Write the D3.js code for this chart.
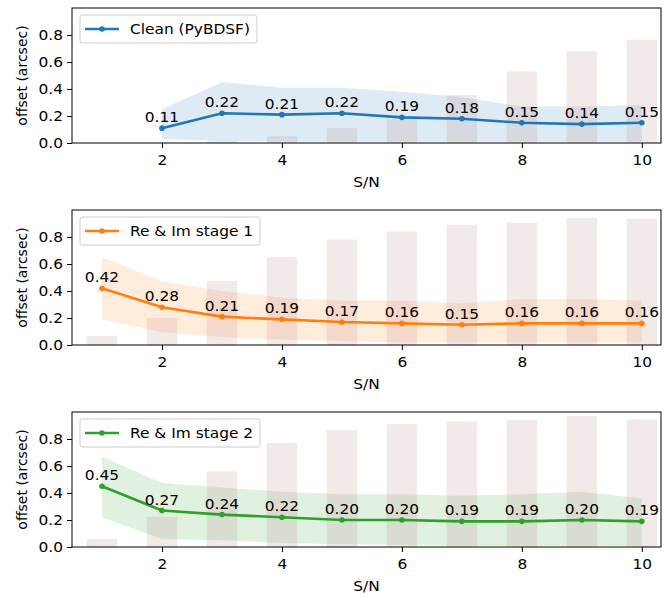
<!DOCTYPE html>
<html>
<head>
<meta charset="utf-8">
<script src="https://cdn.jsdelivr.net/npm/d3@7"></script>
<style>
  body { margin: 0; background: #fff; }
  text { font-family: "DejaVu Sans", sans-serif; }
</style>
</head>
<body>
<div id="chart"></div>
<script>
// S/N bins
const snr = [1, 2, 3, 4, 5, 6, 7, 8, 9, 10]
const yTicks = [0.0, 0.2, 0.4, 0.6, 0.8]
const xTicks = [2, 4, 6, 8, 10]

// Clean (PyBDSF) - no detection at S/N 1
const cleanMean  = [null, 0.11, 0.22, 0.21, 0.22, 0.19, 0.18, 0.15, 0.14, 0.15]
const cleanLow   = [null, 0.03, 0.015, 0.01, 0.01, 0.01, 0.01, 0.01, 0.01, 0.01]
const cleanHigh  = [null, 0.25, 0.45, 0.41, 0.41, 0.38, 0.34, 0.27, 0.27, 0.28]
const cleanFrac  = [0, 0, 0.015, 0.05, 0.11, 0.18, 0.355, 0.53, 0.68, 0.765]

// Re & Im stage 1
const stage1Mean = [0.42, 0.28, 0.21, 0.19, 0.17, 0.16, 0.15, 0.16, 0.16, 0.16]
const stage1Low  = [0.19, 0.094, 0.06, 0.04, 0.03, 0.02, 0.02, 0.02, 0.02, 0.02]
const stage1High = [0.65, 0.47, 0.40, 0.35, 0.33, 0.33, 0.31, 0.34, 0.34, 0.33]
const stage1Frac = [0.067, 0.20, 0.475, 0.65, 0.78, 0.84, 0.89, 0.905, 0.94, 0.935]

// Re & Im stage 2
const stage2Mean = [0.45, 0.27, 0.24, 0.22, 0.20, 0.20, 0.19, 0.19, 0.20, 0.19]
const stage2Low  = [0.22, 0.06, 0.05, 0.03, 0.02, 0.015, 0.01, 0.01, 0.01, 0.01]
const stage2High = [0.67, 0.475, 0.44, 0.41, 0.39, 0.39, 0.38, 0.39, 0.41, 0.36]
const stage2Frac = [0.06, 0.225, 0.56, 0.77, 0.865, 0.91, 0.93, 0.94, 0.97, 0.945]

const panels = [
  { name: "Clean (PyBDSF)", color: "#1f77b4", mean: cleanMean, low: cleanLow, high: cleanHigh, frac: cleanFrac, top: 8 },
  { name: "Re & Im stage 1", color: "#ff7f0e", mean: stage1Mean, low: stage1Low, high: stage1High, frac: stage1Frac, top: 210 },
  { name: "Re & Im stage 2", color: "#2ca02c", mean: stage2Mean, low: stage2Low, high: stage2High, frac: stage2Frac, top: 412 }
]

const W = 668, H = 598
const left = 72, right = 661, ph = 135
const fs = 14
const sx = 1.1   // the picture is a little wider than tall

const svg = d3.select("#chart").append("svg")
    .attr("width", W)
    .attr("height", H)

const x = d3.scaleLinear().domain([0.5, 10.32]).range([left, right])
const barW = x(0.51) - x(0)

panels.forEach(function (p) {
    const y = d3.scaleLinear().domain([0, 1.0]).range([p.top + ph, p.top])
    const g = svg.append("g")

    const pts = snr.map(function (s, i) {
        return { s: s, m: p.mean[i], lo: p.low[i], hi: p.high[i] }
    }).filter(function (d) { return d.m !== null })

    // spread band
    g.append("path")
        .datum(pts)
        .attr("d", d3.area()
            .x(function (d) { return x(d.s) })
            .y0(function (d) { return y(d.lo) })
            .y1(function (d) { return y(d.hi) }))
        .attr("fill", p.color)
        .attr("fill-opacity", 0.15)

    // detection fraction bars
    g.selectAll("rect.bar")
        .data(snr.map(function (s, i) { return { s: s, v: p.frac[i] } }))
        .enter()
        .append("rect")
        .attr("class", "bar")
        .attr("x", function (d) { return x(d.s) - barW / 2 })
        .attr("width", barW)
        .attr("y", function (d) { return y(d.v) })
        .attr("height", function (d) { return y(0) - y(d.v) })
        .attr("fill", "rosybrown")
        .attr("fill-opacity", 0.2)

    // mean offset line
    g.append("path")
        .datum(pts)
        .attr("d", d3.line()
            .x(function (d) { return x(d.s) })
            .y(function (d) { return y(d.m) }))
        .attr("fill", "none")
        .attr("stroke", p.color)
        .attr("stroke-width", 2.6)

    g.selectAll("circle")
        .data(pts)
        .enter()
        .append("circle")
        .attr("cx", function (d) { return x(d.s) })
        .attr("cy", function (d) { return y(d.m) })
        .attr("r", 2.8)
        .attr("fill", p.color)

    g.selectAll("text.val")
        .data(pts)
        .enter()
        .append("text")
        .attr("class", "val")
        .attr("transform", function (d) { return `translate(${x(d.s)},${y(d.m) - 6}) scale(${sx},1)` })
        .attr("text-anchor", "middle")
        .attr("font-size", fs)
        .text(function (d) { return d.m.toFixed(2) })

    // axes
    const yAxis = g.append("g")
        .attr("transform", `translate(${left},0)`)
        .call(d3.axisLeft(y).tickValues(yTicks).tickSize(5).tickPadding(4).tickFormat(d3.format(".1f")))
    const xAxis = g.append("g")
        .attr("transform", `translate(0,${p.top + ph})`)
        .call(d3.axisBottom(x).tickValues(xTicks).tickSize(5).tickPadding(7))
    ;[yAxis, xAxis].forEach(function (a) {
        a.select(".domain").remove()
        a.selectAll("text")
            .attr("font-size", fs)
            .attr("font-family", "DejaVu Sans")
            .attr("fill", "#000")
            .attr("transform", `scale(${sx},1)`)
        a.selectAll("line").attr("stroke", "#000").attr("stroke-width", 1)
    })
    yAxis.selectAll("text").attr("x", -9 / sx)

    g.append("rect")
        .attr("x", left)
        .attr("y", p.top)
        .attr("width", right - left)
        .attr("height", ph)
        .attr("fill", "none")
        .attr("stroke", "#000")
        .attr("stroke-width", 1)

    g.append("text")
        .attr("transform", `translate(22,${p.top + ph / 2}) rotate(-90)`)
        .attr("text-anchor", "middle")
        .attr("dominant-baseline", "central")
        .attr("font-size", fs)
        .text("offset (arcsec)")

    g.append("text")
        .attr("transform", `translate(${(left + right) / 2},${p.top + ph + 44}) scale(${sx},1)`)
        .attr("text-anchor", "middle")
        .attr("font-size", fs)
        .text("S/N")

    // legend
    const lg = g.append("g").attr("transform", `translate(80,${p.top + 7})`)
    const txt = lg.append("text")
        .attr("transform", `translate(50,14) scale(${sx},1)`)
        .attr("dominant-baseline", "central")
        .attr("font-size", fs)
        .text(p.name)
    const tw = txt.node().getComputedTextLength() * sx
    lg.insert("rect", "text")
        .attr("width", 50 + tw + 7)
        .attr("height", 28)
        .attr("rx", 2.5)
        .attr("fill", "#fff")
        .attr("fill-opacity", 0.8)
        .attr("stroke", "#ccc")
        .attr("stroke-width", 1)
    lg.append("line")
        .attr("x1", 5).attr("x2", 39)
        .attr("y1", 14).attr("y2", 14)
        .attr("stroke", p.color)
        .attr("stroke-width", 2.6)
    lg.append("circle")
        .attr("cx", 22).attr("cy", 14)
        .attr("r", 2.8)
        .attr("fill", p.color)
})
</script>
</body>
</html>
